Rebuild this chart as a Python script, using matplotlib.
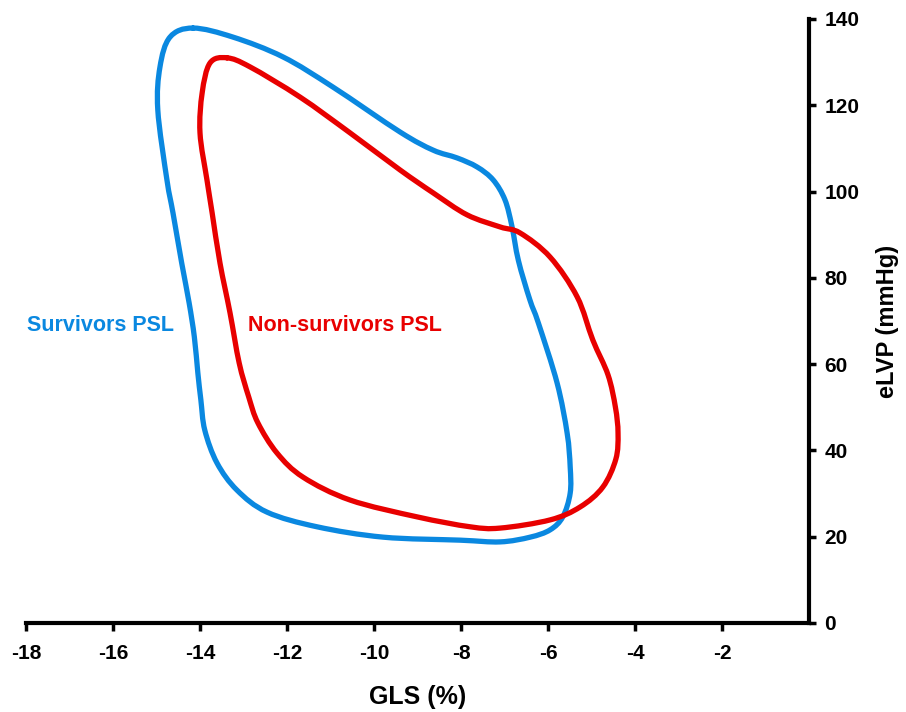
import matplotlib
matplotlib.use("Agg")
import matplotlib.pyplot as plt
from matplotlib.path import Path
from matplotlib.patches import PathPatch

# ---- data (GLS %, eLVP mmHg) ----
surv_gls = [-14.16, -13.24, -12.09, -10.94, -9.40, -8.64, -8.09, -7.63, -7.26, -6.99,
            -6.83, -6.68, -6.42, -6.22, -5.79, -5.56, -5.49, -5.49, -5.66, -5.95,
            -6.41, -7.10, -8.02, -9.79, -11.31, -12.46, -13.15, -13.61, -13.89,
            -13.98, -14.05, -14.13, -14.25, -14.42, -14.62, -14.76, -14.97, -14.92,
            -14.69]
surv_lvp = [137.9, 135.8, 131.2, 124.2, 113.8, 109.6, 107.8, 105.7, 102.7, 98.1,
            92.0, 84.0, 75.0, 69.5, 55.6, 44.0, 36.2, 30.1, 24.6, 21.6,
            19.9, 18.8, 19.2, 19.9, 22.3, 25.7, 30.8, 37.1, 44.7,
            51.7, 58.0, 66.3, 74.2, 83.4, 95.0, 102.7, 118.9, 128.9,
            135.8]

nonsurv_gls = [-13.38, -12.85, -11.70, -10.55, -9.40, -8.64, -7.86, -7.10, -6.64, -5.95,
               -5.33, -4.97, -4.62, -4.45, -4.39, -4.44, -4.74, -5.26, -5.95, -7.10,
               -7.79, -9.01, -10.55, -11.63, -12.23, -12.67, -12.88, -13.10, -13.31,
               -13.54, -13.72, -13.84, -14.00, -13.95, -13.77]
nonsurv_lvp = [131.0, 128.9, 121.9, 113.6, 105.0, 99.7, 94.6, 91.8, 90.4, 84.8,
               75.6, 65.6, 57.5, 50.0, 44.0, 38.0, 31.5, 26.9, 23.9, 22.0,
               22.3, 24.6, 28.5, 33.8, 39.4, 46.4, 52.4, 60.3, 71.9,
               83.4, 95.0, 102.7, 113.6, 122.9, 129.8]

x_ticks = [-18, -16, -14, -12, -10, -8, -6, -4, -2]
y_ticks = [0, 20, 40, 60, 80, 100, 120, 140]
series_labels = ["Survivors PSL", "Non-survivors PSL"]

BLUE = "#0A88E0"
RED = "#E80000"

plt.rcParams["font.family"] = ["Liberation Sans", "DejaVu Sans"]
plt.rcParams["axes.unicode_minus"] = False


def closed_smooth_path(xs, ys, tension=1.0 / 6.0):
    """Closed Catmull-Rom curve through the given points, as cubic Bezier path."""
    n = len(xs)
    verts = [(xs[0], ys[0])]
    codes = [Path.MOVETO]
    for i in range(n):
        p0 = (xs[(i - 1) % n], ys[(i - 1) % n])
        p1 = (xs[i], ys[i])
        p2 = (xs[(i + 1) % n], ys[(i + 1) % n])
        p3 = (xs[(i + 2) % n], ys[(i + 2) % n])
        c1 = (p1[0] + (p2[0] - p0[0]) * tension, p1[1] + (p2[1] - p0[1]) * tension)
        c2 = (p2[0] - (p3[0] - p1[0]) * tension, p2[1] - (p3[1] - p1[1]) * tension)
        verts += [c1, c2, p2]
        codes += [Path.CURVE4] * 3
    return Path(verts, codes)


fig = plt.figure(figsize=(9.06, 7.12), dpi=100)
ax = fig.add_axes([26 / 906, 1 - 623 / 712, (809 - 26) / 906, (623 - 19) / 712])

for xs, ys, col in [(surv_gls, surv_lvp, BLUE), (nonsurv_gls, nonsurv_lvp, RED)]:
    ax.add_patch(PathPatch(closed_smooth_path(xs, ys), facecolor="none", edgecolor=col,
                           lw=3.8, joinstyle="round", capstyle="round"))

ax.text(-17.98, 69, series_labels[0], color=BLUE, fontsize=15.5, fontweight="bold",
        ha="left", va="center")
ax.text(-12.9, 69, series_labels[1], color=RED, fontsize=15.5, fontweight="bold",
        ha="left", va="center")

ax.set_xlim(-18, 0)
ax.set_ylim(0, 140)

for s in ["top", "left"]:
    ax.spines[s].set_visible(False)
for s in ["bottom", "right"]:
    ax.spines[s].set_linewidth(3)
    ax.spines[s].set_color("black")

ax.yaxis.tick_right()
ax.yaxis.set_label_position("right")
ax.set_xticks(x_ticks)
ax.set_yticks(y_ticks)
ax.tick_params(axis="x", direction="out", length=6, width=2.5, pad=9)
ax.tick_params(axis="y", direction="out", length=5, width=2.5, pad=6)
for lab in ax.get_xticklabels():
    lab.set_fontweight("bold")
    lab.set_fontsize(15)
for lab in ax.get_yticklabels():
    lab.set_fontweight("bold")
    lab.set_fontsize(15)

ax.set_xlabel("GLS (%)", fontsize=18, fontweight="bold", labelpad=16)
ax.set_ylabel("eLVP (mmHg)", fontsize=17, fontweight="bold", labelpad=12)

fig.savefig("out.png", dpi=100, facecolor="white")
